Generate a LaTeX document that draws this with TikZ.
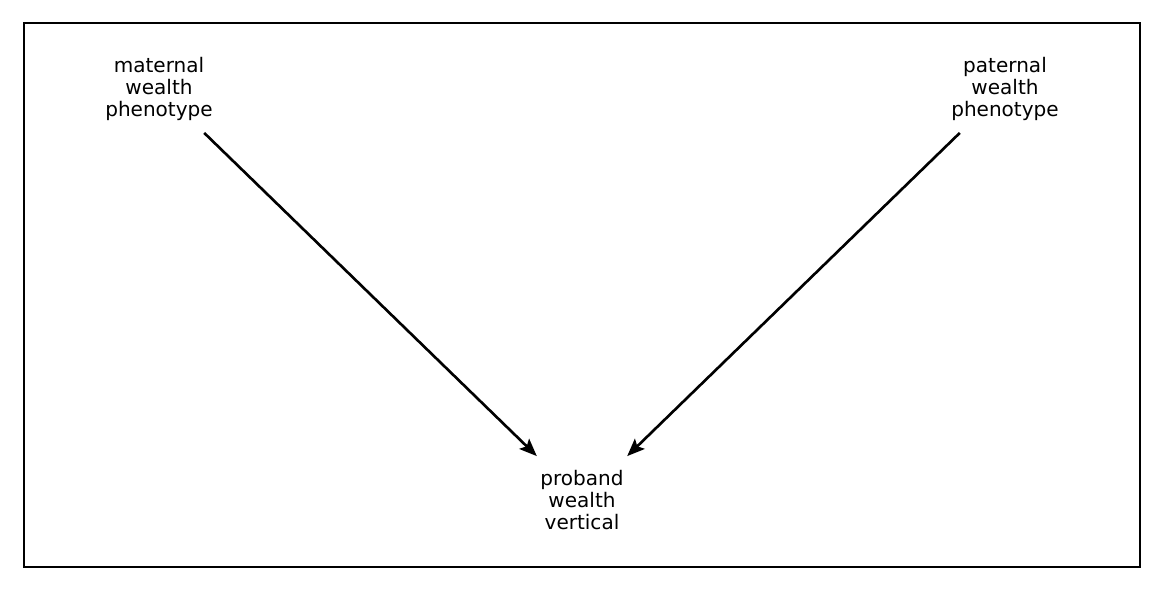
\documentclass[tikz,border=0pt]{standalone}
\usepackage{fontspec}
\setmainfont{DejaVu Sans}
\usetikzlibrary{arrows.meta}
\begin{document}
\begin{tikzpicture}[x=0.02cm,y=-0.02cm,
  lbl/.style={align=center,font=\fontsize{11.4}{12.5}\selectfont,inner sep=0pt},
  arr/.style={line width=1.5pt,-{Stealth[length=10pt,width=8pt,inset=2pt]},shorten <=1.26cm,shorten >=1.26cm}]
\useasboundingbox (0,0) rectangle (1164,591);
\draw[line width=1.1pt] (24,23) rectangle (1140,567);
\node[lbl] (m) at (159,89) {maternal\\wealth\\phenotype};
\node[lbl] (f) at (1005,89) {paternal\\wealth\\phenotype};
\node[lbl] (p) at (582,500) {proband\\wealth\\vertical};
\draw[arr] (m.center) -- (p.center);
\draw[arr] (f.center) -- (p.center);
\end{tikzpicture}
\end{document}
